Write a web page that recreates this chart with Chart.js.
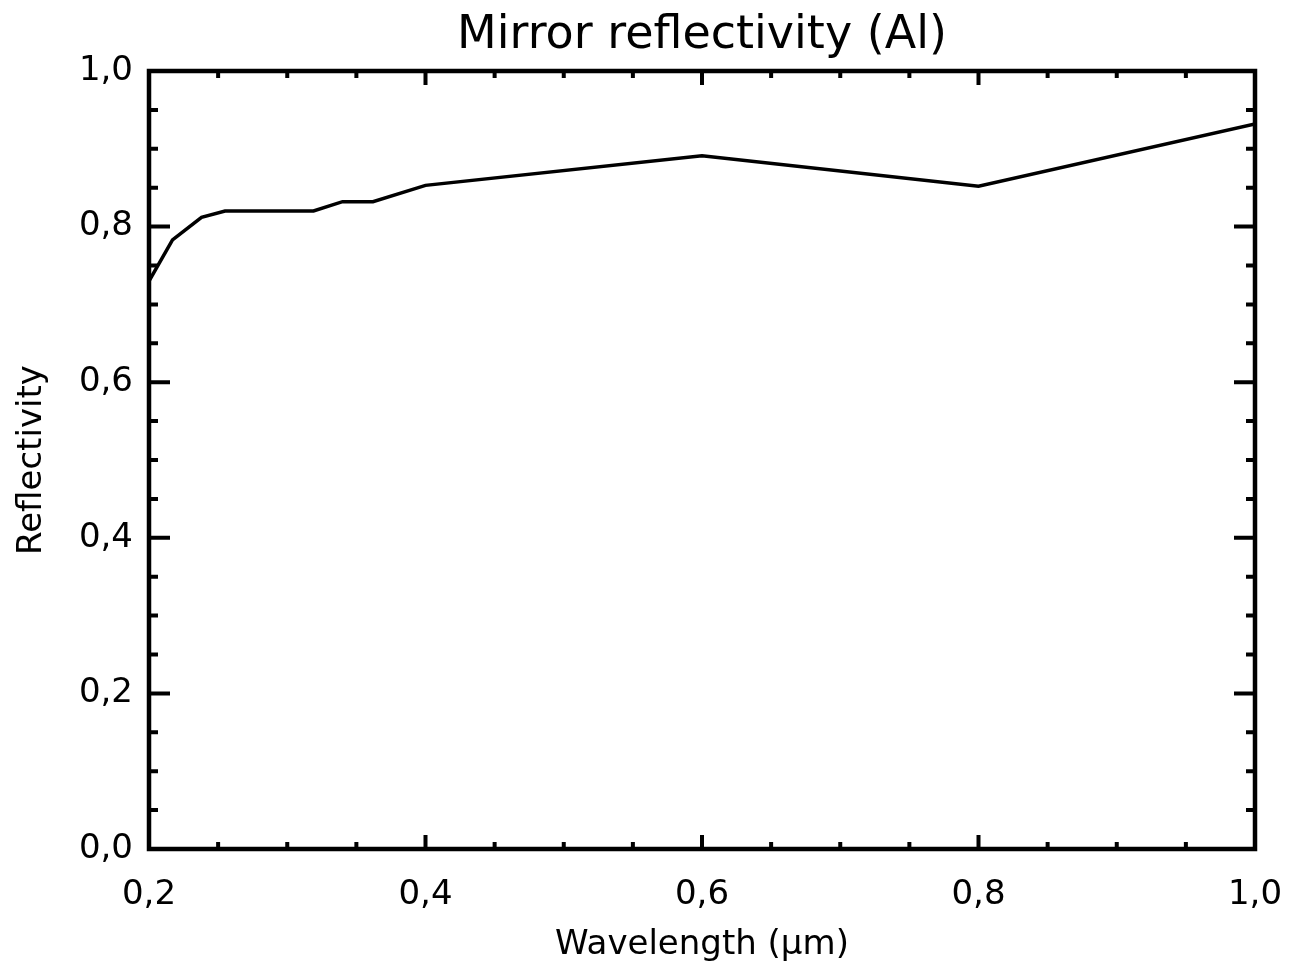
<!DOCTYPE html>
<html>
<head>
<meta charset="utf-8">
<title>Mirror reflectivity (Al)</title>
<script src="https://cdn.jsdelivr.net/npm/chart.js@4.4.1/dist/chart.umd.min.js"></script>
<style>
    html, body { margin: 0; padding: 0; background: #ffffff; }
    #wrap { width: 1289px; height: 970px; }
</style>
</head>
<body>
<div id="wrap"><canvas id="reflectivityChart"></canvas></div>
<script>
// Wavelength (um) and reflectivity
const wavelength = [0.2, 0.217, 0.238, 0.255, 0.319, 0.34, 0.362, 0.4, 0.6, 0.8, 1.0];
const reflectivity = [0.73, 0.783, 0.812, 0.82, 0.82, 0.832, 0.832, 0.853, 0.891, 0.852, 0.932];

const chartTitle = 'Mirror reflectivity (Al)';
const xTitle = 'Wavelength (\u00b5m)';
const yTitle = 'Reflectivity';

const FONT = "'DejaVu Sans', sans-serif";

// comma decimal like the original plot
function commaLabel(value) {
    return Number(value).toFixed(1).replace('.', ',');
}

// Frame, inward ticks on all four sides and the title above the plot box
const framePlugin = {
    id: 'idlFrame',
    afterDraw(chart) {
        const ctx = chart.ctx;
        const area = chart.chartArea;
        const xs = chart.scales.x;
        const ys = chart.scales.y;

        ctx.save();
        ctx.strokeStyle = '#000';
        ctx.lineCap = 'butt';

        // x ticks (bottom and top), every 0.05, major every 0.2
        ctx.lineWidth = 4;
        for (let i = 0; i <= 16; i++) {
            const v = 0.2 + i * 0.05;
            const px = xs.getPixelForValue(v);
            const len = (i % 4 === 0) ? 14 : 7;
            ctx.beginPath();
            ctx.moveTo(px, area.bottom);
            ctx.lineTo(px, area.bottom - len);
            ctx.moveTo(px, area.top);
            ctx.lineTo(px, area.top + len);
            ctx.stroke();
        }

        // y ticks (left and right)
        for (let i = 0; i <= 20; i++) {
            const v = i * 0.05;
            const py = ys.getPixelForValue(v);
            const len = (i % 4 === 0) ? 21 : 9;
            ctx.beginPath();
            ctx.moveTo(area.left, py);
            ctx.lineTo(area.left + len, py);
            ctx.moveTo(area.right, py);
            ctx.lineTo(area.right - len, py);
            ctx.stroke();
        }

        // plot box
        ctx.lineWidth = 4.5;
        ctx.strokeRect(area.left, area.top, area.right - area.left, area.bottom - area.top);

        // title centred over the plot box
        ctx.fillStyle = '#000';
        ctx.font = '46px ' + FONT;
        ctx.textAlign = 'center';
        ctx.textBaseline = 'middle';
        ctx.fillText(chartTitle, (area.left + area.right) / 2, 36);
        ctx.restore();
    }
};

function createReflectivityChart() {
    const ctx = document.getElementById('reflectivityChart').getContext('2d');

    new Chart(ctx, {
        type: 'line',
        data: {
            datasets: [{
                label: yTitle,
                data: wavelength.map((w, i) => ({ x: w, y: reflectivity[i] })),
                borderColor: '#000000',
                backgroundColor: 'transparent',
                borderWidth: 3.5,
                pointRadius: 0,
                tension: 0,
                fill: false
            }]
        },
        options: {
            responsive: true,
            maintainAspectRatio: false,
            animation: false,
            layout: {
                padding: { top: 71, right: 34, left: 0, bottom: 0 }
            },
            plugins: {
                legend: { display: false },
                tooltip: { enabled: false },
                title: { display: false }
            },
            scales: {
                x: {
                    type: 'linear',
                    min: 0.2,
                    max: 1.0,
                    border: { display: false },
                    grid: { display: false, drawTicks: false },
                    ticks: {
                        stepSize: 0.2,
                        color: '#000',
                        padding: 26,
                        maxRotation: 0,
                        font: { family: FONT, size: 34 },
                        callback: commaLabel
                    },
                    title: {
                        display: true,
                        text: xTitle,
                        color: '#000',
                        font: { family: FONT, size: 34 },
                        padding: { top: 0, bottom: 4 }
                    },
                    afterFit(scale) {
                        scale.height = 121;
                        scale.paddingLeft = 0;
                        scale.paddingRight = 0;
                    }
                },
                y: {
                    min: 0,
                    max: 1.0,
                    border: { display: false },
                    grid: { display: false, drawTicks: false },
                    ticks: {
                        stepSize: 0.2,
                        color: '#000',
                        padding: 16,
                        font: { family: FONT, size: 34 },
                        callback: commaLabel
                    },
                    title: {
                        display: true,
                        text: yTitle,
                        color: '#000',
                        font: { family: FONT, size: 34 },
                        padding: { top: 12, bottom: 0 }
                    },
                    afterFit(scale) {
                        scale.width = 149;
                        scale.paddingTop = 0;
                        scale.paddingBottom = 0;
                    }
                }
            }
        },
        plugins: [framePlugin]
    });
}

createReflectivityChart();
</script>
</body>
</html>
